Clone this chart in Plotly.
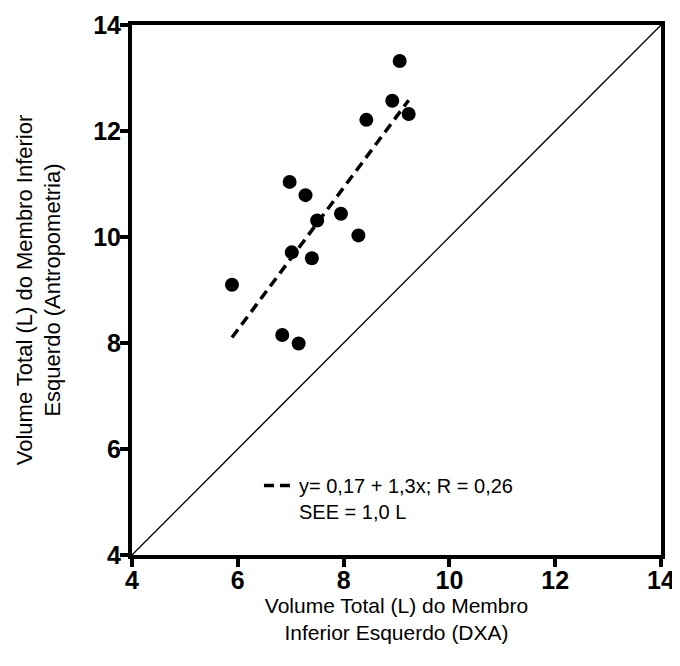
import numpy as np
import plotly.graph_objects as go

# Data
dxa = [9.06, 8.92, 9.23, 8.43, 6.98, 7.28, 7.95, 7.50, 8.28, 7.02, 7.40, 5.89, 6.84, 7.15]
antro = [13.32, 12.57, 12.32, 12.21, 11.04, 10.79, 10.44, 10.31, 10.03, 9.71, 9.60, 9.10, 8.15, 7.99]
identity = [4, 14]
tick_vals = [4, 6, 8, 10, 12, 14]
legend_text = "y= 0,17 + 1,3x; R = 0,26<br>SEE = 1,0 L"

slope, intercept = np.polyfit(dxa, antro, 1)
fit_x = np.array([min(dxa), max(dxa)])
fit_y = intercept + slope * fit_x

font = "Arial, Liberation Sans, sans-serif"

fig = go.Figure()
fig.add_trace(go.Scatter(x=identity, y=identity, mode="lines",
                         line=dict(color="black", width=1.3), showlegend=False,
                         hoverinfo="skip"))
fig.add_trace(go.Scatter(x=fit_x, y=fit_y, mode="lines",
                         line=dict(color="black", width=3.5, dash="10px,6px"),
                         name=legend_text, showlegend=True))
fig.add_trace(go.Scatter(x=dxa, y=antro, mode="markers",
                         marker=dict(color="black", size=14), showlegend=False))

axis_common = dict(
    range=[4, 14], tickvals=tick_vals, showgrid=False, zeroline=False,
    showline=True, linecolor="black", linewidth=4, mirror=True,
    ticks="outside", ticklen=8, tickwidth=4, tickcolor="black",
    automargin=False,
    tickfont=dict(family=font, size=25, color="black", weight="bold"),
)

fig.update_layout(
    width=672, height=658,
    margin=dict(l=124, r=19, t=17, b=111),
    paper_bgcolor="white", plot_bgcolor="white",
    xaxis=dict(**axis_common, ticklabelstandoff=-8,
               title=dict(text="Volume Total (L) do Membro<br>Inferior Esquerdo (DXA)",
                          font=dict(family=font, size=21, color="black"), standoff=4)),
    yaxis=dict(**axis_common, ticklabelstandoff=-6,
               title=dict(text="Volume Total (L) do Membro Inferior<br>Esquerdo (Antropometria)",
                          font=dict(family=font, size=22, color="black"), standoff=27)),
    legend=dict(x=0.24, y=0.168, xanchor="left", yanchor="top",
                bgcolor="rgba(0,0,0,0)", valign="top",
                font=dict(family=font, size=20, color="black"),
                itemwidth=30, tracegroupgap=0),
)

fig.write_html("out.html")
